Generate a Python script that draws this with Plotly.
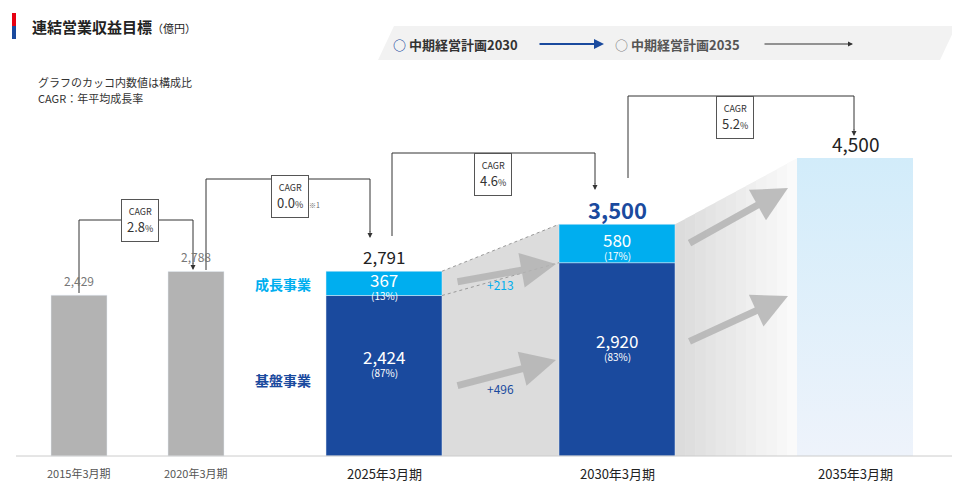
import plotly.graph_objects as go

# data
years = ["2015年3月期", "2020年3月期", "2025年3月期", "2030年3月期", "2035年3月期"]
totals = [2429, 2788, 2791, 3500, 4500]
base_biz = [2424, 2920]
growth_biz = [367, 580]
base_pct = ["(87%)", "(83%)"]
growth_pct = ["(13%)", "(17%)"]
cagr = ["2.8", "0.0", "4.6", "5.2"]
deltas = ["+213", "+496"]

# pixel layout: x axis in pixels, y in 億円 with baseline at pixel 448
W, H = 960, 503
BASE_PX = 448
K = 0.0662  # px per 億円
centers = [71, 188, 376, 609, 847]
widths = [56, 56, 116, 116, 116]
DARK, LIGHT, GRAY = "#1a4a9e", "#00aeef", "#b3b3b3"
FONT = "Noto Sans CJK JP"


def py(p):
    return 1 - p / H


def top_px(v):
    return BASE_PX - v * K


fig = go.Figure()
fig.add_bar(x=centers[:2], y=totals[:2], width=widths[:2], marker_color=GRAY, hoverinfo="skip")
fig.add_bar(x=centers[2:4], y=base_biz, width=widths[2:4], marker_color=DARK, hoverinfo="skip")
fig.add_bar(x=centers[2:4], y=growth_biz, base=base_biz, width=widths[2:4], marker_color=LIGHT, hoverinfo="skip")
x0, x1 = centers[4] - widths[4] / 2, centers[4] + widths[4] / 2
fig.add_scatter(x=[x0, x1, x1, x0, x0], y=[0, 0, totals[4], totals[4], 0], mode="lines",
                line_width=0, fill="toself", hoverinfo="skip",
                fillgradient=dict(type="vertical", colorscale=[[0, "#eef3fb"], [1, "#d2ecfa"]]))

shapes = []
# connecting gray areas
a0, a1 = centers[2] + 58, centers[3] - 58
shapes.append(dict(type="path", xref="x", yref="paper", layer="below", line_width=0, fillcolor="#dcdcdc",
                   path=f"M {a0},{py(top_px(totals[2]))} L {a1},{py(top_px(totals[3]))} L {a1},{py(BASE_PX)} L {a0},{py(BASE_PX)} Z"))
b0, b1 = centers[3] + 58, centers[4] - 58
for i in range(12):
    xa = b0 + (b1 - b0) * i / 12
    xb = b0 + (b1 - b0) * (i + 1) / 12 + 0.5
    ya = top_px(totals[3]) + (top_px(totals[4]) - top_px(totals[3])) * i / 12
    yb = top_px(totals[3]) + (top_px(totals[4]) - top_px(totals[3])) * (i + 1) / 12
    g = int(220 + 33 * i / 12)
    shapes.append(dict(type="path", xref="x", yref="paper", layer="below", line_width=0,
                       fillcolor=f"rgb({g},{g},{g})",
                       path=f"M {xa},{py(ya)} L {xb},{py(yb)} L {xb},{py(BASE_PX)} L {xa},{py(BASE_PX)} Z"))
shapes.append(dict(type="line", xref="x", yref="paper", x0=a0, x1=a1, y0=py(top_px(totals[2])),
                   y1=py(top_px(totals[3])), line=dict(color="#999", width=1, dash="dot")))
shapes.append(dict(type="line", xref="x", yref="paper", x0=a0, x1=a1, y0=py(top_px(base_biz[0])),
                   y1=py(top_px(base_biz[1])), line=dict(color="#999", width=1, dash="dot")))
shapes.append(dict(type="line", xref="x", yref="paper", x0=8, x1=950, y0=py(BASE_PX), y1=py(BASE_PX),
                   line=dict(color="#ccc", width=1)))

# CAGR connectors: (from x, from top px, up y, to x, to top px)
conns = [(71, 285, 212, 185, 262), (198, 262, 171, 362, 230),
         (384, 228, 145, 587, 182), (620, 170, 88, 846, 128)]
for (fx, fy, uy, tx, ty) in conns:
    shapes.append(dict(type="path", xref="x", yref="paper", line=dict(color="#333", width=1),
                       path=f"M {fx},{py(fy)} L {fx},{py(uy)} L {tx},{py(uy)} L {tx},{py(ty - 6)}"))
cagr_box = [(132, 212), (282, 188), (485, 145), (727, 88)]

# title bar and legend ribbon
shapes.append(dict(type="rect", xref="paper", yref="paper", x0=4 / W, x1=8 / W, y0=py(31), y1=py(5),
                   fillcolor="#1a4a9e", line_width=0))
shapes.append(dict(type="rect", xref="paper", yref="paper", x0=4 / W, x1=8 / W, y0=py(18), y1=py(5),
                   fillcolor="#e60012", line_width=0))
shapes.append(dict(type="path", xref="paper", yref="paper", fillcolor="#f2f2f2", line_width=0, layer="below",
                   path=f"M {370/W},{py(52)} L {386/W},{py(18)} L {948/W},{py(18)} L {932/W},{py(52)} Z"))

ann = []


def txt(x, y, s, size=12, color="#333", xanchor="center", **kw):
    ann.append(dict(x=x, y=y, xref="x", yref="paper", text=s, showarrow=False, xanchor=xanchor,
                    yanchor="middle", font=dict(size=size, color=color, family=FONT), **kw))


def arrow(x, y, ax, ay, color, w=2, head=2):
    ann.append(dict(x=x, y=py(y), ax=ax, ay=py(ay), xref="x", yref="y domain", axref="x", ayref="y domain",
                    text="", showarrow=True, arrowhead=head, arrowsize=1, arrowwidth=w, arrowcolor=color))


txt(22, py(18), "<b>連結営業収益目標</b><span style='font-size:11px'>（億円）</span>", 15, "#222", "left")
txt(28, py(74), "グラフのカッコ内数値は構成比", 11, "#333", "left")
txt(28, py(90), "CAGR：年平均成長率", 11, "#333", "left")
txt(383, py(36), "<b><span style='color:#1a4a9e'>○</span> 中期経営計画2030</b>", 13, "#333", "left")
txt(605, py(36), "<b><span style='color:#888'>○</span> 中期経営計画2035</b>", 13, "#555", "left")
arrow(596, 36, 530, 36, "#1a4a9e", 2, 2)
arrow(845, 36, 755, 36, "#333", 1, 2)

for (fx, fy, uy, tx, ty) in conns:
    arrow(tx, ty, tx, ty - 8, "#333", 1, 2)
for (bx, by), c in zip(cagr_box, cagr):
    ann.append(dict(x=bx, y=py(by), xref="x", yref="paper", showarrow=False, bgcolor="white",
                    bordercolor="#555", borderwidth=1, borderpad=5,
                    text=f"<span style='font-size:9px'>CAGR</span><br>{c}<span style='font-size:9px'>%</span>",
                    font=dict(size=13, color="#333", family=FONT)))
txt(306, py(197), "※1", 7, "#666")

for c, v, s, col in zip(centers, totals, [12, 12, 17, 22, 19], ["#777", "#777", "#222", DARK, "#222"]):
    label = f"<b>{v:,}</b>" if v == 3500 else f"{v:,}"
    txt(c, py(top_px(v) - 15), label, s, col)
for i, c in enumerate(centers[2:4]):
    gm = top_px(base_biz[i] + growth_biz[i] / 2)
    txt(c, py(gm - 4), f"{growth_biz[i]}", 17, "white")
    txt(c, py(gm + 12), growth_pct[i], 10, "white")
    bm = top_px(base_biz[i] / 2) - 15
    txt(c, py(bm - 4), f"{base_biz[i]:,}", 17, "white")
    txt(c, py(bm + 12), base_pct[i], 10, "white")
txt(275, py(276), "<b>成長事業</b>", 14, LIGHT)
txt(275, py(372), "<b>基盤事業</b>", 14, DARK)
txt(492, py(276), deltas[0], 12, LIGHT)
txt(492, py(380), deltas[1], 12, DARK)
for c, yl, s in zip(centers, years, [11, 11, 13, 13, 13]):
    txt(c, py(465), yl, s, "#555" if s == 11 else "#222")

# big gray arrows
for (x, y, ax_, ay_) in [(548, 256, 448, 274), (548, 352, 448, 378), (780, 180, 680, 236), (780, 288, 680, 334)]:
    arrow(x, y, ax_, ay_, "rgba(180,180,180,0.85)", 7, 2)

fig.update_layout(
    width=W, height=H, margin=dict(l=0, r=0, t=0, b=0), barmode="overlay", showlegend=False,
    plot_bgcolor="white", paper_bgcolor="white", shapes=shapes, annotations=ann,
    xaxis=dict(range=[0, W], visible=False, fixedrange=True),
    yaxis=dict(range=[-(H - BASE_PX) / K, BASE_PX / K], visible=False, fixedrange=True),
)
fig.write_html("out.html")
